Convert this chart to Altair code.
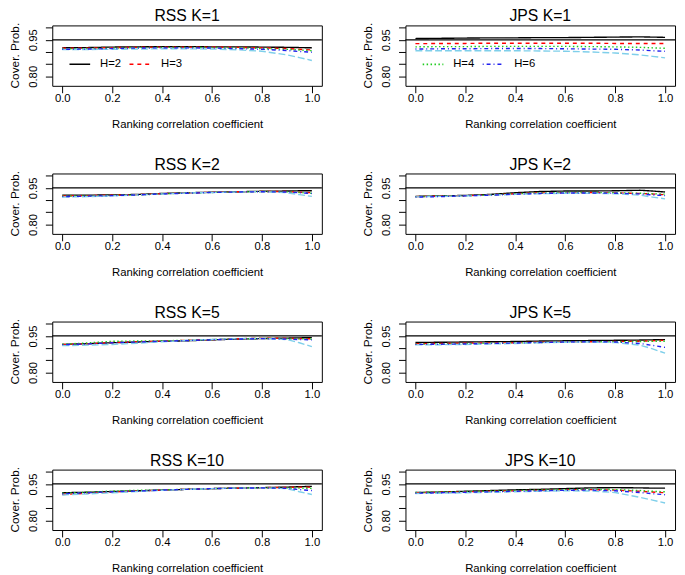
import altair as alt
import pandas as pd

# ---------------- data ----------------
X = [0.0, 0.1, 0.2, 0.3, 0.4, 0.5, 0.6, 0.7, 0.8, 0.9, 0.95, 1.0]
SERIES = ["H=2", "H=3", "H=4", "H=5", "H=6"]
X_TICKS = [0.0, 0.2, 0.4, 0.6, 0.8, 1.0]
Y_TICKS = [0.80, 0.85, 0.90, 0.95, 1.00]
Y_LABELED = [0.80, 0.95]
REF_LEVEL = 0.95
Y_TITLE = "Cover. Prob."
X_TITLE = "Ranking correlation coefficient"

RSS_K1 = {
    "H=2": [0.917, 0.918, 0.920, 0.921, 0.922, 0.922, 0.921, 0.921, 0.920, 0.919, 0.918, 0.917],
    "H=3": [0.915, 0.916, 0.918, 0.919, 0.920, 0.920, 0.920, 0.919, 0.917, 0.914, 0.911, 0.908],
    "H=4": [0.913, 0.914, 0.916, 0.918, 0.919, 0.919, 0.918, 0.917, 0.914, 0.911, 0.908, 0.905],
    "H=5": [0.910, 0.910, 0.911, 0.912, 0.913, 0.913, 0.912, 0.909, 0.903, 0.888, 0.877, 0.865],
    "H=6": [0.911, 0.912, 0.914, 0.916, 0.917, 0.917, 0.916, 0.914, 0.911, 0.906, 0.902, 0.899],
}
JPS_K1 = {
    "H=2": [0.955, 0.956, 0.957, 0.958, 0.958, 0.959, 0.959, 0.960, 0.961, 0.962, 0.961, 0.960],
    "H=3": [0.934, 0.935, 0.935, 0.936, 0.936, 0.936, 0.936, 0.936, 0.935, 0.935, 0.935, 0.935],
    "H=4": [0.921, 0.922, 0.922, 0.923, 0.923, 0.923, 0.923, 0.922, 0.921, 0.919, 0.917, 0.915],
    "H=5": [0.905, 0.905, 0.905, 0.905, 0.905, 0.904, 0.903, 0.900, 0.896, 0.888, 0.882, 0.876],
    "H=6": [0.912, 0.913, 0.913, 0.914, 0.914, 0.914, 0.913, 0.912, 0.911, 0.908, 0.905, 0.903],
}
RSS_K2 = {
    "H=2": [0.920, 0.920, 0.921, 0.923, 0.927, 0.930, 0.932, 0.934, 0.936, 0.937, 0.938, 0.938],
    "H=3": [0.917, 0.918, 0.920, 0.922, 0.926, 0.929, 0.932, 0.934, 0.935, 0.935, 0.932, 0.930],
    "H=4": [0.916, 0.917, 0.919, 0.921, 0.925, 0.929, 0.931, 0.933, 0.935, 0.934, 0.931, 0.928],
    "H=5": [0.912, 0.914, 0.917, 0.921, 0.925, 0.929, 0.931, 0.933, 0.934, 0.930, 0.922, 0.915],
    "H=6": [0.914, 0.916, 0.918, 0.921, 0.925, 0.928, 0.931, 0.933, 0.934, 0.933, 0.930, 0.927],
}
JPS_K2 = {
    "H=2": [0.915, 0.917, 0.919, 0.923, 0.930, 0.935, 0.937, 0.937, 0.938, 0.940, 0.937, 0.933],
    "H=3": [0.914, 0.916, 0.918, 0.921, 0.926, 0.929, 0.930, 0.931, 0.929, 0.927, 0.925, 0.922],
    "H=4": [0.914, 0.916, 0.918, 0.921, 0.926, 0.929, 0.931, 0.931, 0.930, 0.928, 0.926, 0.924],
    "H=5": [0.913, 0.915, 0.917, 0.920, 0.923, 0.926, 0.928, 0.928, 0.926, 0.920, 0.912, 0.905],
    "H=6": [0.912, 0.914, 0.917, 0.920, 0.924, 0.927, 0.929, 0.929, 0.928, 0.925, 0.921, 0.918],
}
RSS_K5 = {
    "H=2": [0.915, 0.918, 0.922, 0.925, 0.928, 0.930, 0.934, 0.937, 0.939, 0.941, 0.942, 0.943],
    "H=3": [0.915, 0.918, 0.923, 0.926, 0.929, 0.932, 0.935, 0.938, 0.941, 0.940, 0.939, 0.938],
    "H=4": [0.916, 0.921, 0.928, 0.929, 0.930, 0.932, 0.935, 0.938, 0.940, 0.939, 0.938, 0.937],
    "H=5": [0.910, 0.912, 0.915, 0.920, 0.926, 0.931, 0.936, 0.939, 0.940, 0.935, 0.922, 0.906],
    "H=6": [0.914, 0.917, 0.922, 0.925, 0.928, 0.931, 0.934, 0.937, 0.939, 0.937, 0.935, 0.934],
}
JPS_K5 = {
    "H=2": [0.923, 0.924, 0.925, 0.926, 0.927, 0.929, 0.930, 0.931, 0.932, 0.933, 0.934, 0.935],
    "H=3": [0.918, 0.919, 0.920, 0.921, 0.922, 0.924, 0.925, 0.926, 0.927, 0.928, 0.930, 0.932],
    "H=4": [0.916, 0.917, 0.918, 0.920, 0.921, 0.923, 0.925, 0.926, 0.926, 0.927, 0.928, 0.928],
    "H=5": [0.913, 0.914, 0.915, 0.917, 0.919, 0.922, 0.924, 0.925, 0.923, 0.912, 0.897, 0.879],
    "H=6": [0.915, 0.916, 0.917, 0.919, 0.921, 0.923, 0.925, 0.926, 0.925, 0.919, 0.911, 0.903],
}
RSS_K10 = {
    "H=2": [0.914, 0.916, 0.919, 0.922, 0.925, 0.928, 0.931, 0.933, 0.935, 0.937, 0.939, 0.940],
    "H=3": [0.907, 0.912, 0.917, 0.921, 0.925, 0.928, 0.931, 0.933, 0.935, 0.936, 0.937, 0.937],
    "H=4": [0.912, 0.916, 0.921, 0.924, 0.926, 0.928, 0.931, 0.933, 0.935, 0.934, 0.933, 0.932],
    "H=5": [0.905, 0.909, 0.914, 0.919, 0.924, 0.928, 0.931, 0.933, 0.934, 0.931, 0.918, 0.907],
    "H=6": [0.910, 0.914, 0.918, 0.921, 0.925, 0.928, 0.931, 0.933, 0.934, 0.932, 0.927, 0.923],
}
JPS_K10 = {
    "H=2": [0.915, 0.917, 0.920, 0.923, 0.926, 0.928, 0.931, 0.934, 0.935, 0.934, 0.933, 0.933],
    "H=3": [0.914, 0.916, 0.918, 0.920, 0.922, 0.924, 0.926, 0.927, 0.925, 0.920, 0.917, 0.914],
    "H=4": [0.915, 0.917, 0.919, 0.921, 0.923, 0.925, 0.927, 0.928, 0.927, 0.923, 0.920, 0.918],
    "H=5": [0.911, 0.912, 0.914, 0.916, 0.918, 0.920, 0.922, 0.921, 0.915, 0.895, 0.884, 0.872],
    "H=6": [0.912, 0.914, 0.916, 0.918, 0.920, 0.922, 0.924, 0.925, 0.922, 0.915, 0.910, 0.906],
}

PANELS = [
    ("RSS K=1", RSS_K1), ("JPS K=1", JPS_K1),
    ("RSS K=2", RSS_K2), ("JPS K=2", JPS_K2),
    ("RSS K=5", RSS_K5), ("JPS K=5", JPS_K5),
    ("RSS K=10", RSS_K10), ("JPS K=10", JPS_K10),
]
LEGEND_LEFT = ["H=2", "H=3"]
LEGEND_RIGHT = ["H=4", "H=6"]

# ---------------- styles ----------------
FONT = "Liberation Sans"
COLORS = ["#000000", "#FF0000", "#1FCC1F", "#7FCFEA", "#2222EE"]
DASHES = [[1, 0], [4, 4], [1.5, 2.5], [7, 3], [1, 3, 4, 3]]
WIDTHS = [1.4, 1.4, 1.8, 2.0, 1.4]
STYLE = {h: (c, d, w) for h, c, d, w in zip(SERIES, COLORS, DASHES, WIDTHS)}

PW, PH = 274, 61.4

x_scale = alt.Scale(domain=[-0.04, 1.04], nice=False, zero=False)
y_scale = alt.Scale(domain=[0.761, 1.009], nice=False, zero=False)

label_test = " || ".join(f"abs(datum.value - {v}) < 0.001" for v in Y_LABELED)

x_axis = alt.Axis(values=X_TICKS, format=".1f", title=X_TITLE,
                  tickSize=7, labelPadding=6.2, labelBaseline="middle", labelFontSize=11.5,
                  titleFontSize=11.5, minExtent=20, maxExtent=20, titlePadding=13.3,
                  labelFlush=False, labelOverlap=False, grid=False, domain=False)
y_axis = alt.Axis(values=Y_TICKS, labelExpr=f"({label_test}) ? format(datum.value, '.2f') : ''",
                  title=None, tickSize=7, labelPadding=12.5, labelAngle=270,
                  labelAlign="center", labelBaseline="middle", labelFontSize=11.5,
                  minExtent=26, maxExtent=26,
                  labelOverlap=False, labelFlush=False, grid=False, domain=False)


def legend_layers(keys):
    layers = []
    # positions of the key samples inside the plot box (pixels)
    slots = [(17.5, 38.5, 48.5), (78.5, 100.5, 110.5)]
    ypix = 39.5
    for h, (a, b, t) in zip(keys, slots):
        c, d, w = STYLE[h]
        one = alt.Chart(pd.DataFrame({"k": [h]}))
        layers.append(one.mark_rule(color=c, strokeDash=d, strokeWidth=w).encode(
            x=alt.value(a), x2=alt.value(b), y=alt.value(ypix)))
        layers.append(one.mark_text(align="left", baseline="middle", font=FONT,
                                    fontSize=11.5, color="black").encode(
            x=alt.value(t), y=alt.value(ypix), text="k:N"))
    return layers


def panel(title, data, keys=None):
    rows = []
    for h in SERIES:
        for x, v in zip(X, data[h]):
            rows.append({"x": x, "cp": v, "H": h})
    df = pd.DataFrame(rows)
    lines = alt.Chart(df).mark_line().encode(
        x=alt.X("x:Q", scale=x_scale, axis=x_axis),
        y=alt.Y("cp:Q", scale=y_scale, axis=y_axis),
        color=alt.Color("H:N", scale=alt.Scale(domain=SERIES, range=COLORS), legend=None),
        strokeDash=alt.StrokeDash("H:N", scale=alt.Scale(domain=SERIES, range=DASHES), legend=None),
        strokeWidth=alt.StrokeWidth("H:N", scale=alt.Scale(domain=SERIES, range=WIDTHS), legend=None),
    )
    ref = alt.Chart(pd.DataFrame({"r": [REF_LEVEL]})).mark_rule(color="black", strokeWidth=1.3).encode(
        y=alt.Y("r:Q", scale=y_scale, axis=y_axis))
    head = alt.Chart(pd.DataFrame({"t": [title]})).mark_text(
        align="center", baseline="alphabetic", font=FONT, fontSize=16, color="black"
    ).encode(x=alt.value(PW / 2), y=alt.value(-4), text="t:N")
    ytitle = alt.Chart(pd.DataFrame({"t": [Y_TITLE]})).mark_text(
        align="center", baseline="middle", angle=270, font=FONT, fontSize=12, color="black"
    ).encode(x=alt.value(-38), y=alt.value(PH / 2), text="t:N")
    layers = [ref, lines, head, ytitle]
    if keys:
        layers += legend_layers(keys)
    return alt.layer(*layers).properties(width=PW, height=PH)


rows = []
for i in range(0, len(PANELS), 2):
    lt, ld = PANELS[i]
    rt, rd = PANELS[i + 1]
    left = panel(lt, ld, LEGEND_LEFT if i == 0 else None)
    right = panel(rt, rd, LEGEND_RIGHT if i == 0 else None)
    rows.append(alt.hconcat(left, right, spacing=38))

chart = alt.vconcat(*rows, spacing=25.5).properties(
    padding={"top": -5, "left": 0, "right": 0, "bottom": 0}
).configure_view(
    stroke="black", strokeWidth=1
).configure_axis(
    labelFont=FONT, titleFont=FONT, labelColor="black", titleColor="black",
    tickColor="black", titleFontWeight="normal"
)

chart.save("out.html", embed_options={"renderer": "svg", "actions": False})
